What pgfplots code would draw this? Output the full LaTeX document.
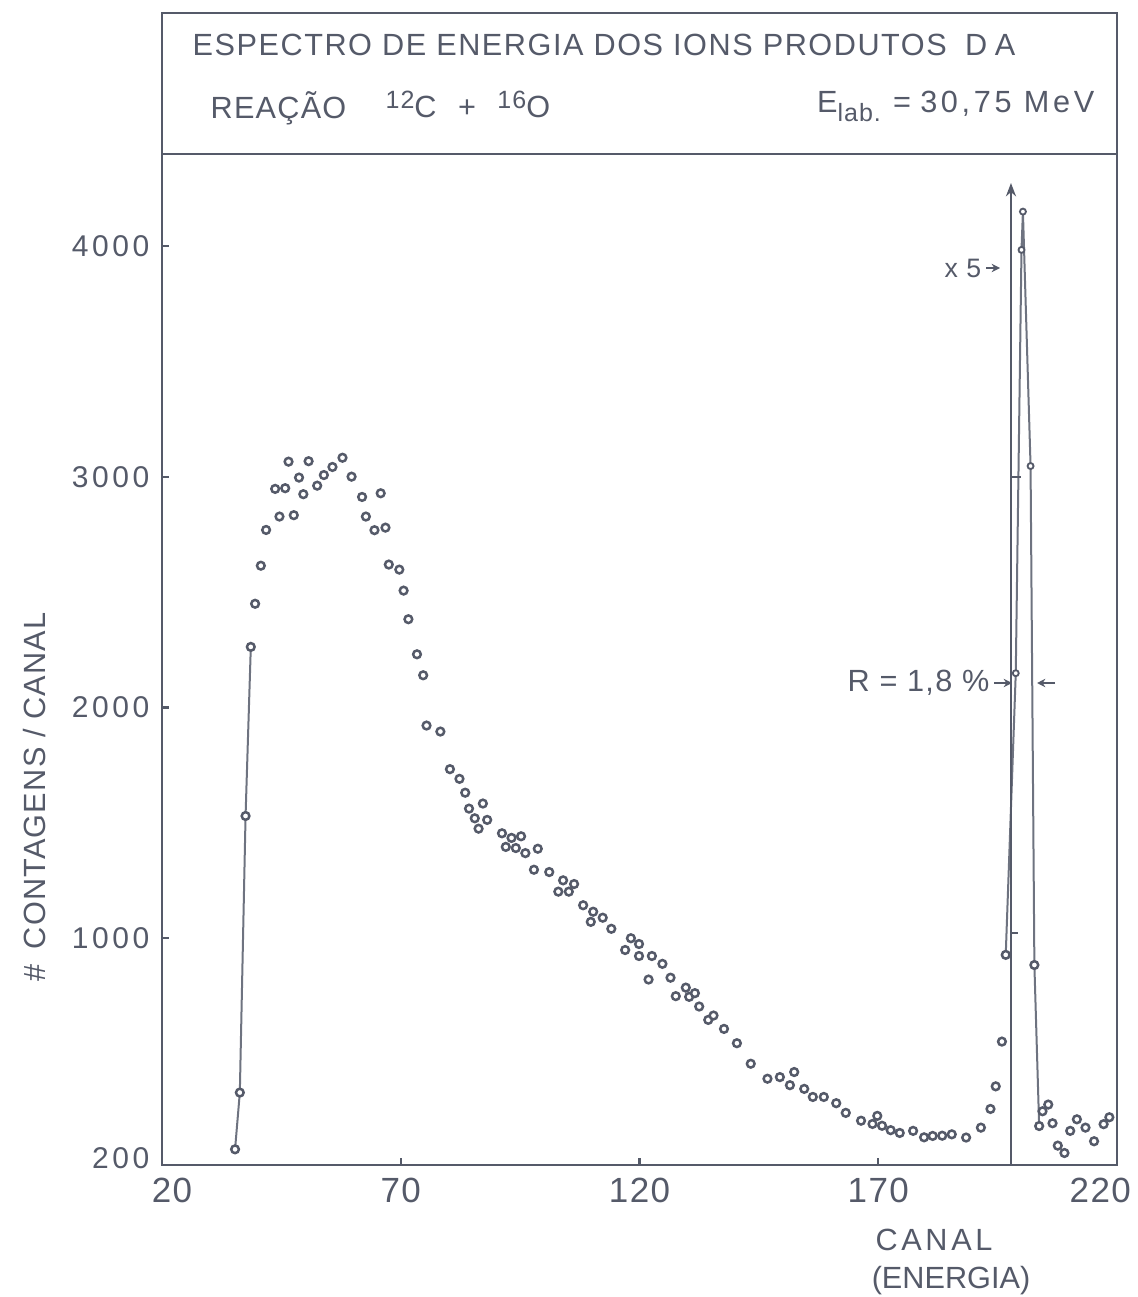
\documentclass[border=0pt]{standalone}
\usepackage{fontspec}
\setmainfont{Liberation Sans}
\usepackage{pgfplots}
\pgfplotsset{compat=1.18}
\usetikzlibrary{arrows.meta}
\definecolor{ink}{HTML}{555A69}
\newfontfamily\lett[LetterSpace=4]{Liberation Sans}
\newfontfamily\tlett[LetterSpace=5]{Liberation Sans}
\newfontfamily\wlett[LetterSpace=12]{Liberation Sans}

% counts per channel
\pgfplotstableread{
ch y
35.3 85
36.3 331
37.5 1530
38.6 2263
39.5 2450
40.7 2615
41.8 2770
43.7 2948
44.6 2828
45.8 2951
46.5 3066
47.6 2834
48.7 2997
49.6 2925
50.7 3068
52.5 2962
53.9 3008
55.7 3043
57.8 3083
59.7 3001
61.9 2913
62.7 2828
64.5 2769
65.8 2929
66.8 2780
67.5 2620
69.7 2598
70.6 2507
71.6 2383
73.4 2231
74.7 2140
75.4 1922
78.3 1896
80.3 1733
82.3 1691
83.5 1631
84.3 1562
85.5 1520
86.3 1475
87.2 1584
88.1 1513
91.2 1455
92.0 1396
93.2 1435
94.1 1391
95.2 1442
96.1 1369
97.9 1297
98.7 1388
101.1 1287
103.0 1202
104.0 1251
105.2 1202
106.3 1235
108.2 1143
109.8 1071
110.3 1115
112.3 1089
114.1 1041
117.0 949
118.2 1000
119.9 975
119.9 923
121.9 821
122.6 923
124.8 889
126.5 829
127.6 749
129.7 786
130.4 746
131.6 762
132.5 704
134.4 646
135.5 665
137.7 607
140.4 545
143.3 456
146.8 391
149.4 398
151.5 363
152.4 420
154.5 347
156.3 312
158.6 312
161.2 285
163.2 243
166.4 209
168.8 195
169.8 230
170.8 187
172.6 168
174.5 156
177.3 165
179.6 137
181.4 143
183.4 144
185.4 150
188.4 136
191.5 179
193.5 260
194.6 358
195.9 552
196.7 928
202.7 884
203.7 186
204.4 250
205.6 279
206.5 198
207.6 101
209.0 69
210.2 165
211.6 215
213.4 179
215.2 120
217.2 194
218.4 224
}\spectrum

% peak points (x5)
\pgfplotstableread{
ch y
198.8 2149
200.0 3984
200.3 4150
201.9 3047
}\peak

\begin{document}
\begin{tikzpicture}[x=1pt,y=1pt]
\useasboundingbox (0,0) rectangle (341.1,389.1);
\begin{axis}[
  at={(48.6pt,39.6pt)}, anchor=south west,
  scale only axis, width=286.5pt, height=345.6pt,
  xmin=20, xmax=220, ymin=17, ymax=5011,
  axis line style={ink, line width=0.8pt},
  xtick={20,70,120,170,220},
  xticklabels={20\hspace*{-6pt},70,120,170,\hspace*{-10pt}220},
  ytick={1000,2000,3000,4000},
  yticklabels={1000,2000,3000,4000},
  extra y ticks={48}, extra y tick labels={200},
  extra y tick style={major tick length=0pt},
  tick style={ink, line width=0.7pt},
  major tick length=2.2pt,
  tick align=inside,
  xtick pos=bottom, ytick pos=left,
  xticklabel style={text=ink, font=\lett\fontsize{10.5}{11}\selectfont, anchor=north, inner sep=0pt, yshift=-3.6pt},
  yticklabel style={text=ink, font=\wlett\fontsize{9}{10}\selectfont, anchor=east, inner sep=0pt, xshift=-3.6pt},
  clip=false,
]
% hand drawn guide lines
\addplot[ink!85, line width=0.6pt] coordinates {(35.3,85)(36.3,331)(37.5,1530)(38.6,2263)};
\addplot[ink!85, line width=0.6pt] coordinates {(196.7,928)(198.8,2149)(200.0,3984)(200.3,4150)(201.9,3047)(202.7,884)(203.7,186)};
\draw[ink, line width=0.8pt, -{Stealth[length=4pt,width=3pt]}] (axis cs:197.8,17) -- (axis cs:197.8,4274);
\draw[ink, line width=0.5pt] (axis cs:197.8,3000) -- (axis cs:199.8,3000);
\draw[ink, line width=0.5pt] (axis cs:197.8,1023) -- (axis cs:199.3,1023);
\draw[ink, line width=0.8pt] (axis cs:20,4400) -- (axis cs:220,4400);

\addplot[only marks, mark=*, mark size=1.15pt, mark options={draw=ink, fill=white, line width=0.75pt}] table[x=ch, y=y] {\spectrum};
\addplot[only marks, mark=*, mark size=0.9pt, mark options={draw=ink, fill=white, line width=0.55pt}] table[x=ch, y=y] {\peak};
\end{axis}

\begin{scope}[shift={(0pt,389.1pt)}, x=0.3pt, y=-0.3pt, every node/.style={text=ink, inner sep=0pt}]
\node[anchor=west, font=\tlett\fontsize{9.2}{11}\selectfont] at (192,45) {ESPECTRO DE ENERGIA DOS IONS PRODUTOS\hspace{0.6em}D\hspace{0.25em}A};
\node[anchor=west, font=\lett\fontsize{9.2}{11}\selectfont] at (210,108) {REAÇÃO};
\node[anchor=west, font=\lett\fontsize{9.2}{11}\selectfont] at (385,104) {\raisebox{0.55ex}{\fontsize{7.5}{8}\selectfont 12}C\hspace{0.7em}+\hspace{0.7em}\raisebox{0.55ex}{\fontsize{7.5}{8}\selectfont 16}O};
\node[anchor=east, font=\wlett\fontsize{9.2}{11}\selectfont] at (1095,106) {E\raisebox{-0.55ex}{\lett\fontsize{7.5}{8}\selectfont lab.}\hspace{0.4em}=\hspace{0.3em}30,75 MeV};
% axis titles
\node[font=\wlett\fontsize{9.2}{11}\selectfont] at (934,1240) {CANAL};
\node[font=\fontsize{9.2}{11}\selectfont] at (951,1281) {(ENERGIA)};
\node[rotate=90, font=\lett\fontsize{9.2}{11}\selectfont] at (35,797) {\#\hspace{0.5em}CONTAGENS / CANAL};
% annotations near the peak
\node[anchor=east, font=\lett\fontsize{8}{9}\selectfont] at (982,268) {x 5};
\draw[ink, line width=0.6pt, -{Stealth[length=2.5pt,width=2.5pt]}] (986,268) -- (1000,268);
\node[anchor=east, font=\lett\fontsize{9.2}{11}\selectfont] at (990,683) {R = 1,8 \%};
\draw[ink, line width=0.6pt, -{Stealth[length=2.5pt,width=2.5pt]}] (994,683) -- (1012,683);
\draw[ink, line width=0.6pt, -{Stealth[length=2.5pt,width=2.5pt]}] (1055,683) -- (1037,683);
\end{scope}
\end{tikzpicture}
\end{document}
